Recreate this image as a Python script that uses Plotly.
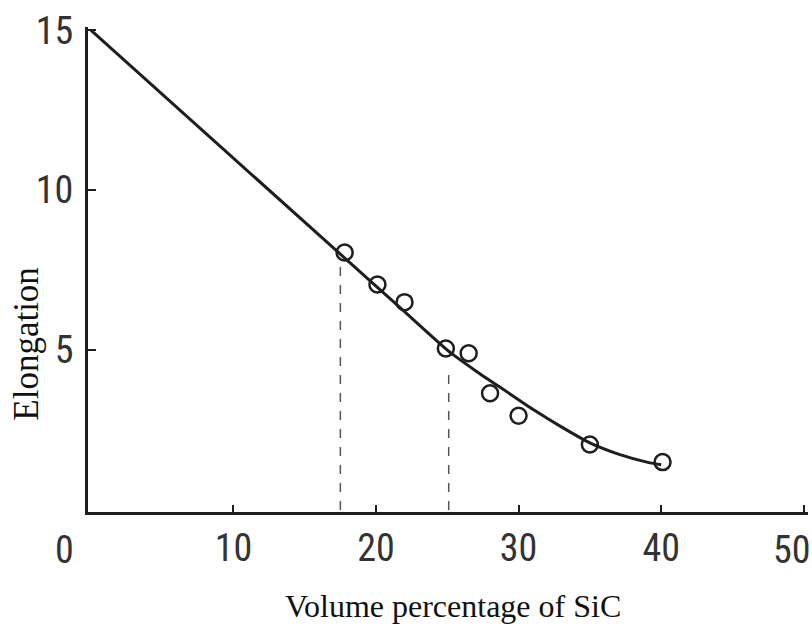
import plotly.graph_objects as go

# data
pts_x = [17.8, 20.1, 22.0, 24.9, 26.5, 28.0, 30.0, 35.0, 40.1]
pts_y = [8.05, 7.05, 6.5, 5.05, 4.9, 3.65, 2.95, 2.05, 1.5]

curve_x = [0.0, 17.5, 20.0, 22.0, 25.0, 27.0, 29.0, 31.0, 33.0, 35.0, 37.0, 39.0, 40.0]
curve_y = [15.0, 8.0, 7.0, 6.2, 5.0, 4.35, 3.75, 3.15, 2.6, 2.1, 1.75, 1.5, 1.42]

guide_x = [17.5, 25.1]
guide_top = [7.7, 4.5]

x_ticks = [10, 20, 30, 40, 50]
x_labels = ["10", "20", "30", "40", ""]
y_ticks = [5, 10, 15]

ink = "#1e1e1e"
digit_font = dict(family="Roboto Condensed, Noto Sans Display, sans-serif", size=38, color="#333333")
serif = "Liberation Serif, Times New Roman, serif"

fig = go.Figure()

for gx, gt in zip(guide_x, guide_top):
    fig.add_trace(go.Scatter(x=[gx, gx], y=[0, gt], mode="lines",
                             line=dict(color="#555", width=1.5, dash="dash"),
                             showlegend=False, hoverinfo="skip"))

fig.add_trace(go.Scatter(x=curve_x, y=curve_y, mode="lines",
                         line=dict(color=ink, width=3, shape="spline", smoothing=0.5),
                         showlegend=False))

fig.add_trace(go.Scatter(x=pts_x, y=pts_y, mode="markers",
                         marker=dict(symbol="circle-open", size=16, color=ink, line=dict(width=2.5, color=ink)),
                         showlegend=False))

# origin and last tick labels, offset as in the original drawing
fig.add_annotation(x=0, y=0, xref="x", yref="y", text="0", showarrow=False,
                   xshift=-26, yshift=-40, font=digit_font)
fig.add_annotation(x=50, y=0, xref="x", yref="y", text="50", showarrow=False,
                   xshift=-12, yshift=-40, font=digit_font)

fig.add_annotation(x=0.5, y=0, xref="paper", yref="paper", text="Volume percentage of SiC",
                   showarrow=False, xshift=5, yshift=-94, xanchor="center", yanchor="middle",
                   font=dict(family=serif, size=32, color="#111"))
fig.add_annotation(x=0, y=5.2, xref="paper", yref="y", text="Elongation", textangle=-90,
                   showarrow=False, xshift=-61, xanchor="center", yanchor="middle",
                   font=dict(family=serif, size=35, color="#111"))

fig.update_layout(
    width=812, height=628,
    margin=dict(l=88, r=4, t=27, b=116),
    paper_bgcolor="white", plot_bgcolor="white",
    xaxis=dict(range=[-0.2, 50.3], tickvals=x_ticks, ticktext=x_labels, ticks="inside", ticklen=7, tickwidth=2,
               tickcolor=ink, showline=True, linecolor=ink, linewidth=3, showgrid=False,
               zeroline=False, tickfont=digit_font, ticklabelstandoff=0),
    yaxis=dict(range=[-0.06, 15.1], tickvals=y_ticks, ticks="inside", ticklen=8, tickwidth=2,
               tickcolor=ink, showline=True, linecolor=ink, linewidth=3, showgrid=False,
               zeroline=False, tickfont=digit_font, ticklabelstandoff=4),
)

fig.write_html("out.html")
